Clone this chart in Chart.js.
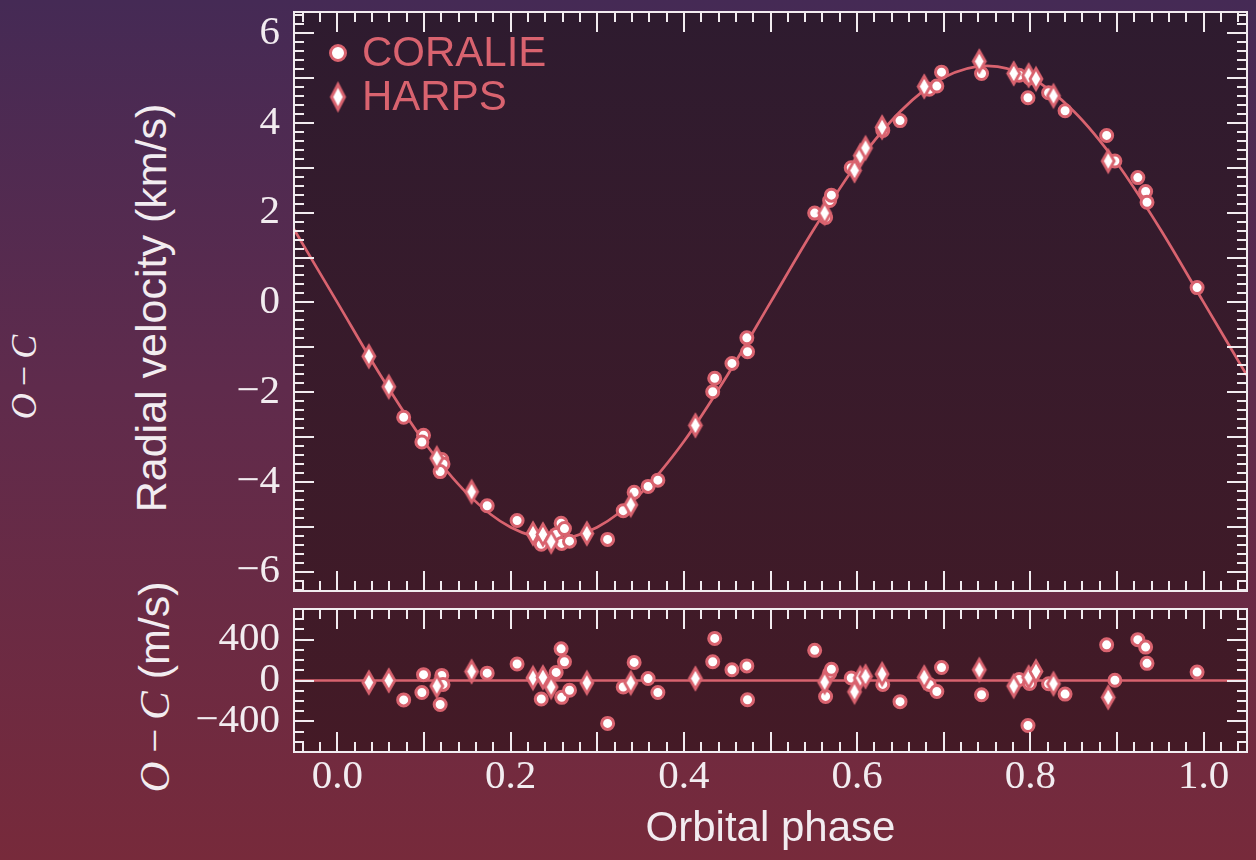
<!DOCTYPE html>
<html>
<head>
<meta charset="utf-8">
<script src="https://cdn.jsdelivr.net/npm/chart.js@4"></script>
<style>
  html, body { margin: 0; padding: 0; }
  body {
    width: 1256px; height: 860px; overflow: hidden; position: relative;
    background: linear-gradient(180deg, #452a55 0%, #5f2b4c 45%, #772a3b 100%);
    font-family: 'Liberation Sans', Arial, sans-serif;
  }
  #rvWrap { position: absolute; left: 0; top: 0; width: 1256px; height: 600px; }
  #ocWrap { position: absolute; left: 0; top: 600px; width: 1256px; height: 260px; }
  .ylab {
    position: absolute; color: #f2ecf0; white-space: nowrap; line-height: 1;
    transform: translate(-50%, -50%) rotate(-90deg);
  }
  .math { font-family: 'Liberation Serif', serif; font-style: italic; }
  .op { font-family: 'Liberation Serif', serif; }
</style>
</head>
<body>
<div class="ylab" style="left:24px; top:377px; font-size:36px;"><span class="math">O</span><span class="op">&thinsp;−&thinsp;</span><span class="math">C</span></div>
<div class="ylab" style="left:151px; top:308px; font-size:43px;">Radial velocity (km/s)</div>
<div class="ylab" style="left:154px; top:687px; font-size:43px;"><span class="math">O</span><span class="op">&thinsp;−&thinsp;</span><span class="math">C</span> (m/s)</div>
<div id="rvWrap"><canvas id="rvChart"></canvas></div>
<div id="ocWrap"><canvas id="ocChart"></canvas></div>
<script>
const PINK = '#d9636f';
const INK = '#f2ecf0';

// CORALIE measurements: orbital phase, RV (km/s), residual O-C (m/s)
const coraliePhase = [0.0766, 0.0995, 0.0976, 0.1206, 0.1220, 0.1187, 0.173, 0.2075, 0.2354, 0.2526,
  0.2583, 0.2622, 0.2590, 0.268, 0.312, 0.330, 0.3426, 0.3587, 0.370, 0.4356,
  0.4333, 0.4555, 0.4727, 0.4735, 0.551, 0.5636, 0.5683, 0.5703, 0.5932, 0.6296,
  0.6495, 0.6833, 0.692, 0.6974, 0.7436, 0.787, 0.799, 0.7972, 0.821, 0.840,
  0.888, 0.8975, 0.924, 0.933, 0.9346, 0.9924];
const coralieRV = [-2.56, -2.96, -3.11, -3.50, -3.60, -3.77, -4.53, -4.86, -5.39, -5.17,
  -4.92, -5.04, -5.37, -5.32, -5.28, -4.64, -4.23, -4.10, -3.96, -1.69,
  -1.99, -1.36, -0.79, -1.10, 1.99, 1.89, 2.27, 2.39, 3.00, 3.83,
  4.05, 4.75, 4.82, 5.13, 5.10, 5.06, 5.00, 4.56, 4.67, 4.27,
  3.72, 3.15, 2.78, 2.47, 2.23, 0.33];
const coralieOC = [-190, 57, -118, 50, -38, -235, 72, 162, -181, 79,
  310, 184, -165, -95, -420, -64, 177, 19, -118, 412,
  184, 105, 143, -188, 295, -156, 72, 110, 25, -38,
  -207, -38, -108, 127, -140, 10, -30, -441, -32, -133,
  349, 3, 400, 327, 168, 82];

// HARPS measurements
const harpsPhase = [0.0364, 0.0594, 0.1148, 0.155, 0.2258, 0.2373, 0.2468, 0.288, 0.3387, 0.4133,
  0.5625, 0.597, 0.6036, 0.6097, 0.6288, 0.6774, 0.741, 0.7807, 0.798, 0.8064,
  0.8266, 0.8898];
const harpsRV = [-1.20, -1.88, -3.47, -4.22, -5.15, -5.17, -5.33, -5.15, -4.51, -2.74,
  1.99, 2.94, 3.27, 3.44, 3.90, 4.81, 5.37, 5.10, 5.06, 4.98,
  4.60, 3.15];
const harpsOC = [-20, 0, -54, 88, 25, 31, -64, -23, -23, 19,
  -16, -111, 25, 40, 63, 31, 105, -54, 31, 89,
  -32, -165];

// orbit model
const modelPhase = [-0.05, 0, 0.05, 0.10, 0.15, 0.20, 0.25, 0.30, 0.35, 0.40, 0.45, 0.50,
  0.55, 0.60, 0.65, 0.70, 0.75, 0.80, 0.85, 0.90, 0.95, 1.00, 1.05];
const modelRV = [1.63, 0, -1.63, -3.10, -4.26, -5.01, -5.27, -5.01, -4.26, -3.10, -1.63, 0,
  1.63, 3.10, 4.26, 5.01, 5.27, 5.01, 4.26, 3.10, 1.63, 0, -1.63];
const residualLine = [-0.05, 1.05];

// tick labels
const phaseTicks = [0, 0.2, 0.4, 0.6, 0.8, 1.0];
const rvTicks = [-6, -4, -2, 0, 2, 4, 6];
const ocTicks = [-400, 0, 400];

function steps(from, to, step) {
  const out = [];
  for (let v = from; v <= to + step / 2; v += step) out.push(Math.round(v * 1000) / 1000);
  return out;
}
const minus = v => v < 0 ? '\u2212' + Math.abs(v) : String(v);
const pts = (xs, ys) => xs.map((x, i) => ({x: x, y: ys[i]}));
// keep tick labels from pushing the plot area around
const noPad = s => { s.paddingTop = 0; s.paddingBottom = 0; s.paddingLeft = 0; s.paddingRight = 0; };

function diamond(w, h, lw) {
  const c = document.createElement('canvas');
  c.width = w + 10; c.height = h + 10;
  const ctx = c.getContext('2d');
  const cx = c.width / 2, cy = c.height / 2;
  ctx.beginPath();
  ctx.moveTo(cx, cy - h / 2);
  ctx.lineTo(cx + w / 2, cy);
  ctx.lineTo(cx, cy + h / 2);
  ctx.lineTo(cx - w / 2, cy);
  ctx.closePath();
  ctx.fillStyle = '#ffffff';
  ctx.fill();
  ctx.lineWidth = lw;
  ctx.strokeStyle = PINK;
  ctx.stroke();
  return c;
}
const harpsMarker = diamond(12, 21, 2.8);
const harpsLegendMarker = diamond(13, 25, 3);

// panel background, frame and inward ticks on all sides
function framePlugin(cfg) {
  return {
    id: 'frame' + cfg.name,
    beforeDatasetsDraw(chart) {
      const {ctx, chartArea: a} = chart;
      const g = ctx.createLinearGradient(0, 12 - cfg.offset, 0, 752 - cfg.offset);
      g.addColorStop(0, '#2e1b2f');
      g.addColorStop(1, '#441a26');
      ctx.save();
      ctx.fillStyle = g;
      ctx.fillRect(a.left, a.top, a.width, a.height);
      ctx.restore();
    },
    afterDatasetsDraw(chart) {
      const {ctx, chartArea: a, scales: {x, y}} = chart;
      ctx.save();
      ctx.strokeStyle = INK;
      ctx.lineWidth = 2;
      const seg = (x1, y1, x2, y2) => { ctx.beginPath(); ctx.moveTo(x1, y1); ctx.lineTo(x2, y2); ctx.stroke(); };
      const xt = (vals, len) => vals.forEach(v => {
        const p = Math.round(x.getPixelForValue(v));
        seg(p, a.top, p, a.top + len);
        seg(p, a.bottom, p, a.bottom - len);
      });
      const yt = (vals, len) => vals.forEach(v => {
        const p = Math.round(y.getPixelForValue(v));
        seg(a.left, p, a.left + len, p);
        seg(a.right, p, a.right - len, p);
      });
      xt(steps(-0.04, 1.04, 0.02), 10);
      xt(steps(0, 1, 0.1), 20);
      yt(cfg.yMinor, 10);
      yt(cfg.yMajor, 20);
      ctx.strokeRect(a.left, a.top, a.width, a.height);

      if (cfg.legend) {
        const lx = a.left + 44;
        ctx.font = '42px "Liberation Sans", Arial, sans-serif';
        ctx.textBaseline = 'middle';
        const ds = chart.data.datasets;
        // CORALIE
        let ly = a.top + 41;
        ctx.beginPath();
        ctx.arc(lx, ly, 7.5, 0, Math.PI * 2);
        ctx.fillStyle = '#ffffff';
        ctx.fill();
        ctx.lineWidth = 3;
        ctx.strokeStyle = PINK;
        ctx.stroke();
        ctx.fillStyle = PINK;
        ctx.fillText(ds[1].label, lx + 24, ly + 1);
        // HARPS
        ly = a.top + 85;
        ctx.drawImage(harpsLegendMarker, lx - harpsLegendMarker.width / 2, ly - harpsLegendMarker.height / 2);
        ctx.fillText(ds[2].label, lx + 24, ly + 1);
      }
      ctx.restore();
    }
  };
}

const serifTicks = { family: "'Liberation Serif', 'Times New Roman', serif", size: 41 };

new Chart(document.getElementById('rvChart'), {
  type: 'scatter',
  data: {
    datasets: [
      { label: 'Model', data: pts(modelPhase, modelRV), showLine: true, borderColor: PINK, borderWidth: 2.7,
        pointRadius: 0, cubicInterpolationMode: 'monotone', order: 3 },
      { label: 'CORALIE', data: pts(coraliePhase, coralieRV), pointStyle: 'circle', pointRadius: 6,
        borderWidth: 3, borderColor: PINK, backgroundColor: '#ffffff', order: 2 },
      { label: 'HARPS', data: pts(harpsPhase, harpsRV), pointStyle: harpsMarker, pointRadius: 7, order: 1 }
    ]
  },
  options: {
    responsive: true,
    maintainAspectRatio: false,
    animation: false,
    layout: { padding: { top: 12, right: 3, bottom: 3, left: 0 } },
    plugins: { legend: { display: false }, tooltip: { enabled: false } },
    scales: {
      x: { type: 'linear', min: -0.05, max: 1.05, display: false },
      y: {
        type: 'linear', min: -6.43, max: 6.47,
        afterBuildTicks: s => { s.ticks = rvTicks.map(v => ({value: v})); },
        afterFit: s => { s.width = 294; noPad(s); },
        grid: { display: false, drawTicks: false },
        border: { display: false },
        ticks: { color: INK, padding: 14, font: serifTicks, callback: v => minus(v) }
      }
    }
  },
  plugins: [framePlugin({ name: 'rv', offset: 0, yMinor: steps(-6.4, 6.4, 0.2), yMajor: steps(-6, 6, 1), legend: true })]
});

new Chart(document.getElementById('ocChart'), {
  type: 'scatter',
  data: {
    datasets: [
      { label: 'zero', data: pts(residualLine, [0, 0]), showLine: true, borderColor: PINK, borderWidth: 2.7,
        pointRadius: 0, order: 3 },
      { label: 'CORALIE', data: pts(coraliePhase, coralieOC), pointStyle: 'circle', pointRadius: 6,
        borderWidth: 3, borderColor: PINK, backgroundColor: '#ffffff', order: 2 },
      { label: 'HARPS', data: pts(harpsPhase, harpsOC), pointStyle: harpsMarker, pointRadius: 7, order: 1 }
    ]
  },
  options: {
    responsive: true,
    maintainAspectRatio: false,
    animation: false,
    layout: { padding: { top: 6, right: 3, bottom: 0, left: 0 } },
    plugins: { legend: { display: false }, tooltip: { enabled: false } },
    scales: {
      x: {
        type: 'linear', min: -0.05, max: 1.05,
        afterBuildTicks: s => { s.ticks = phaseTicks.map(v => ({value: v})); },
        afterFit: s => { s.height = 108; noPad(s); },
        grid: { display: false, drawTicks: false },
        border: { display: false },
        ticks: { color: INK, padding: 1, maxRotation: 0, font: serifTicks, callback: v => v.toFixed(1) },
        title: { display: true, text: 'Orbital phase', color: INK, padding: { top: 0, bottom: 5 },
          font: { family: "'Liberation Sans', Arial, sans-serif", size: 42 } }
      },
      y: {
        type: 'linear', min: -700, max: 700,
        afterBuildTicks: s => { s.ticks = ocTicks.map(v => ({value: v})); },
        afterFit: s => { s.width = 294; noPad(s); },
        grid: { display: false, drawTicks: false },
        border: { display: false },
        ticks: { color: INK, padding: 14, font: serifTicks, callback: v => minus(v) }
      }
    }
  },
  plugins: [framePlugin({ name: 'oc', offset: 600, yMinor: steps(-600, 600, 100), yMajor: ocTicks, legend: false })]
});
</script>
</body>
</html>
